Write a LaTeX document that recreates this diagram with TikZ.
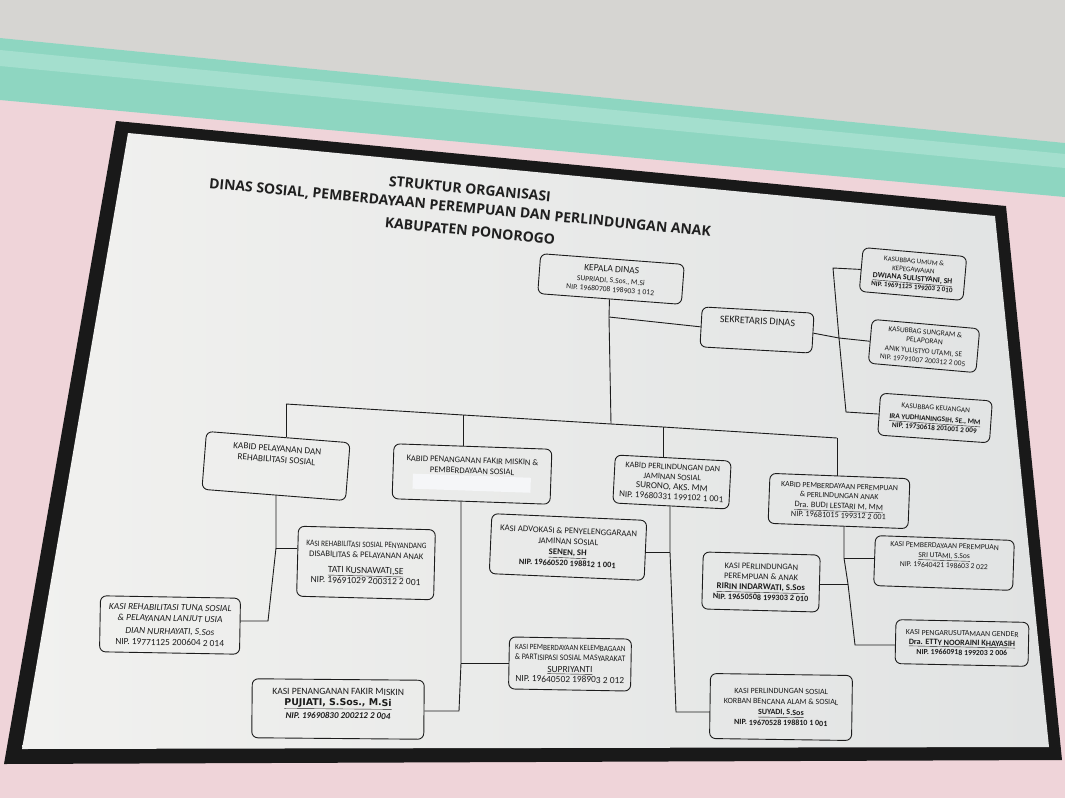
\documentclass[tikz,border=0pt]{standalone}
\usepackage{fontspec}
\setmainfont{Carlito}
\newfontfamily\titlefont{Open Sans}
\newfontfamily\wideb{DejaVu Sans}
\usetikzlibrary{calc}
\definecolor{wallpink}{HTML}{EFD4D9}
\definecolor{ceil}{HTML}{D6D5D2}
\definecolor{mint}{HTML}{8ED6C1}
\definecolor{mintl}{HTML}{A4DFCE}
\definecolor{boardA}{HTML}{F1F1EF}
\definecolor{boardB}{HTML}{E1E3E3}
\definecolor{ink}{HTML}{1C1C1C}
\definecolor{blurc}{HTML}{F5F6F8}
\newcommand\fs[2]{\fontsize{#1}{#2}\selectfont}
\begin{document}
\begin{tikzpicture}[x=1pt,y=-1pt,
  box/.style={draw=ink, line width=0.9pt, rounded corners=6pt, align=center, inner sep=1.5pt, text=ink},
  conn/.style={draw=ink, line width=0.9pt},
  ttl/.style={text=black!88, font=\titlefont\bfseries\fontsize{14}{16}\selectfont, rotate=-5.5, inner sep=0pt}]
\useasboundingbox (0,0) rectangle (1065,798);
% background photo surroundings
\fill[wallpink] (0,0) rectangle (1065,798);
\fill[ceil] (0,0) -- (1065,0) -- (1065,143) -- (0,38) -- cycle;
\fill[mint] (0,38) -- (1065,143) -- (1065,197) -- (0,100) -- cycle;
\fill[mintl] (0,50) -- (1065,154) -- (1065,168) -- (0,66) -- cycle;
\fill[black!90] (116,121) -- (1006,206) -- (1062,760) -- (4,764) -- cycle;
\shade[left color=boardA, right color=boardB] (128,133) -- (995,216) -- (1049,747) -- (22,749) -- cycle;
% title
\node[ttl] (t1) at (470,189) {STRUKTUR ORGANISASI};
\node[ttl] (t2) at (460,208) {DINAS SOSIAL, PEMBERDAYAAN PEREMPUAN DAN PERLINDUNGAN ANAK};
\node[ttl] (t3) at (470,231) {KABUPATEN PONOROGO};
% top
\node[box, minimum width=144pt, minimum height=40pt, rotate=-4.3, font=\fs{7.6}{9}] (kd) at (611,279)
  {{\fs{9.5}{10}KEPALA DINAS}\\[2pt]SUPRIADI, S.Sos., M.Si\\NIP. 19680708 198903 1 012};
\node[box, minimum width=112pt, minimum height=40pt, rotate=-3.2, font=\fs{10}{12}] (sek) at (757,330)
  {SEKRETARIS DINAS\\[6pt]\mbox{}};
\node[box, minimum width=104pt, minimum height=44pt, rotate=-5, font=\fs{7}{8.6}] (ku) at (913,274)
  {KASUBBAG UMUM \&\\KEPEGAWAIAN\\{\fs{7.8}{8.6}\textbf{\underline{DWIANA SULISTYANI, SH}}}\\\textbf{NIP. 19691125 199203 2 010}};
\node[box, minimum width=108pt, minimum height=44pt, rotate=-5, font=\fs{7.4}{8.8}] (ks) at (924,346)
  {KASUBBAG SUNGRAM \&\\PELAPORAN\\[2pt]ANIK YULISTYO UTAMI, SE\\NIP. 19791007 200312 2 005};
\node[box, minimum width=112pt, minimum height=42pt, rotate=-4, font=\fs{7.3}{9}] (kk) at (935,418)
  {KASUBBAG KEUANGAN\\[2pt]\textbf{\underline{IRA YUDHIANINGSIH, SE., MM}}\\\textbf{NIP. 19730618 201001 2 009}};
% kabid row
\node[box, minimum width=144pt, minimum height=58pt, rotate=-4.5, font=\fs{9.2}{11}] (kb1) at (276,466)
  {KABID PELAYANAN DAN\\REHABILITASI SOSIAL\\[13pt]\mbox{}};
\node[box, minimum width=158pt, minimum height=55pt, rotate=-2, font=\fs{8.6}{10.5}] (kb2) at (472,474)
  {KABID PENANGANAN FAKIR MISKIN \&\\PEMBERDAYAAN SOSIAL\\[1pt]\textcolor{blurc}{\rule{118pt}{15pt}}};
\node[box, minimum width=116pt, minimum height=48pt, rotate=-3, font=\fs{8.3}{10}] (kb3) at (672,482)
  {KABID PERLINDUNGAN DAN\\JAMINAN SOSIAL\\{\fs{9.2}{10}SURONO, AKS. MM}\\{\fs{9}{10}NIP. 19680331 199102 1 001}};
\node[box, minimum width=140pt, minimum height=50pt, rotate=-2.2, font=\fs{7.8}{9.4}] (kb4) at (839,501)
  {KABID PEMBERDAYAAN PEREMPUAN\\\& PERLINDUNGAN ANAK\\[1pt]{\fs{8.3}{9}\underline{Dra. BUDI LESTARI M, MM}}\\{\fs{8.2}{9}NIP. 19681015 199312 2 001}};
% kasi
\node[box, minimum width=137pt, minimum height=70pt, rotate=-1.5, font=\fs{8.6}{10.5}] (k1) at (366,563)
  {\scalebox{0.88}[1]{\fs{8.3}{10}KASI REHABILITASI SOSIAL PENYANDANG}\\DISABILITAS \& PELAYANAN ANAK\\[5pt]{\fs{9.5}{10}\underline{TATI KUSNAWATI,SE}}\\{\fs{9.5}{10}NIP. 19691029 200312 2 001}};
\node[box, minimum width=140pt, minimum height=56pt, rotate=-1, font=\fs{9.4}{11}] (k2) at (170,625)
  {\textit{KASI REHABILITASI TUNA SOSIAL}\\\textit{\& PELAYANAN LANJUT USIA}\\[2pt]\textit{DIAN NURHAYATI, S.Sos}\\NIP. 19771125 200604 2 014};
\node[box, minimum width=172pt, minimum height=59pt, rotate=-0.5, font=\fs{9.6}{11}] (k3) at (338,709)
  {KASI PENANGANAN FAKIR MISKIN\\{\wideb\bfseries\fs{9.4}{11}\underline{PUJIATI, S.Sos., M.Si}}\\[2pt]{\fs{9}{10}\bfseries\itshape NIP. 19690830 200212 2 004}\\\mbox{}};
\node[box, minimum width=122pt, minimum height=52pt, rotate=-1, font=\fs{9.4}{10}] (k4) at (570,664)
  {\scalebox{0.9}[1]{\fs{8}{9}KASI PEMBERDAYAAN KELEMBAGAAN}\\\scalebox{0.9}[1]{\fs{8.5}{9}\& PARTISIPASI SOSIAL MASYARAKAT}\\[2pt]\underline{SUPRIYANTI}\\NIP. 19640502 198903 2 012};
\node[box, minimum width=155pt, minimum height=60pt, rotate=-2.5, font=\fs{8.7}{10.8}] (k5) at (568,547)
  {KASI ADVOKASI \& PENYELENGGARAAN\\JAMINAN SOSIAL\\\textbf{\underline{SENEN, SH}}\\{\fs{8.3}{10}\textbf{NIP. 19660520 198812 1 001}}};
\node[box, minimum width=117pt, minimum height=57pt, rotate=-1.5, font=\fs{8.5}{10.3}] (k6) at (761,582)
  {KASI PERLINDUNGAN\\PEREMPUAN \& ANAK\\{\fs{8.8}{10}\textbf{\underline{RIRIN INDARWATI, S.Sos}}}\\{\fs{8.2}{10}\textbf{NIP. 19650508 199303 2 010}}};
\node[box, minimum width=139pt, minimum height=50pt, rotate=-2, font=\fs{7.6}{9.8}] (k7) at (944,563)
  {KASI PEMBERDAYAAN PEREMPUAN\\\underline{SRI UTAMI, S.Sos}\\NIP. 19640421 198603 2 022\\[5pt]\mbox{}};
\node[box, minimum width=133pt, minimum height=44pt, rotate=-1.2, font=\fs{7.8}{9.6}] (k8) at (962,643)
  {KASI PENGARUSUTAMAAN GENDER\\{\fs{8.2}{9}\textbf{\underline{Dra. ETTY NOORAINI KHAYASIH}}}\\\textbf{NIP. 19660918 199203 2 006}};
\node[box, minimum width=142pt, minimum height=65pt, rotate=-0.8, font=\fs{8}{10.6}] (k9) at (781,707)
  {KASI PERLINDUNGAN SOSIAL\\KORBAN BENCANA ALAM \& SOSIAL\\\textbf{\underline{SUYADI, S.Sos}}\\\textbf{NIP. 19670528 198810 1 001}};
% junction coordinates
\coordinate (js) at (609,317);
\coordinate (bm) at (611,424);
\coordinate (jt) at (833,268);
\coordinate (jm) at (839,338);
\coordinate (jb) at (846,412);
\coordinate (b1) at (286,404);
\coordinate (b2) at (463,415);
\coordinate (b3) at (663,427);
\coordinate (b4) at (837,438);
\coordinate (v1m) at (276,548);
\coordinate (v1b) at (268,621);
\coordinate (v2m) at (461,663);
\coordinate (v2b) at (459,711);
\coordinate (v3m) at (670,552);
\coordinate (v3b) at (676,712);
\coordinate (v4a) at (844,558);
\coordinate (v4b) at (848,584);
\coordinate (v4c) at (855,645);
% connectors
\draw[conn] (kd.south) -- (js) -- (bm);
\draw[conn] (js) -- (sek.west);
\draw[conn] (sek.east) -- (jm);
\draw[conn] (ku.west) -- (jt) -- (jm) -- (jb) -- (kk.west);
\draw[conn] (jm) -- (ks.west);
\draw[conn] (b1) -- (b2) -- (bm) -- (b3) -- (b4);
\draw[conn] (b1) -- (b1 |- kb1.north);
\draw[conn] (b2) -- (b2 |- kb2.north);
\draw[conn] (b3) -- (b3 |- kb3.north);
\draw[conn] (b4) -- (b4 |- kb4.north);
\draw[conn] (v1m |- kb1.south) -- (v1m) -- (v1b) -- (v1b -| k2.east);
\draw[conn] (v1m) -- (v1m -| k1.west);
\draw[conn] (v2m |- kb2.south) -- (v2m) -- (v2b) -- (v2b -| k3.east);
\draw[conn] (v2m) -- (v2m -| k4.west);
\draw[conn] (v3m |- kb3.south) -- (v3m) -- (v3b) -- (v3b -| k9.west);
\draw[conn] (v3m) -- (v3m -| k5.east);
\draw[conn] (v4a |- kb4.south) -- (v4a) -- (v4b) -- (v4c) -- (v4c -| k8.west);
\draw[conn] (v4a) -- (v4a -| k7.west);
\draw[conn] (v4b) -- (v4b -| k6.east);
\end{tikzpicture}
\end{document}
